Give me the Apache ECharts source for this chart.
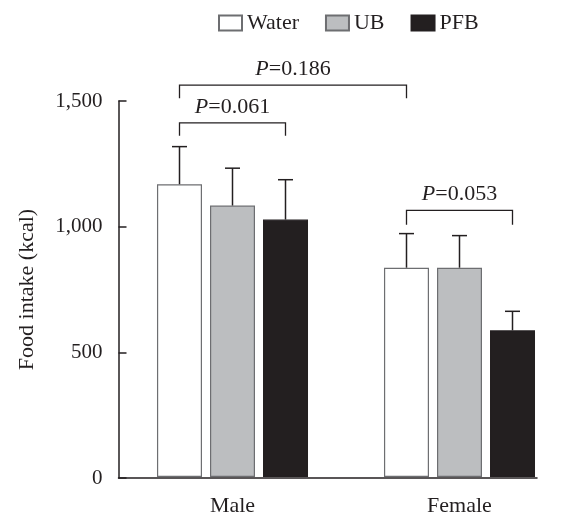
<!DOCTYPE html>
<html>
<head>
<meta charset="utf-8">
<script src="https://cdn.jsdelivr.net/npm/echarts@6/dist/echarts.min.js"></script>
<style>html,body{margin:0;padding:0;background:#fff;}#c{width:569px;height:517px;}</style>
</head>
<body>
<div id="c"></div>
<script>
const categories = ['Male', 'Female'];
const groupNames = ['Water', 'UB', 'PFB'];
const meanWater = [1168, 835];
const meanUB = [1083, 835];
const meanPFB = [1027, 585];
const upperWater = [1318, 971];
const upperUB = [1232, 963];
const upperPFB = [1186, 661];
const yTicks = [0, 500, 1000, 1500];

const pLabels = ['0.186', '0.061', '0.053'];
const bracketFrom = [[0, 0], [0, 0], [1, 0]];   // [category, bar index]
const bracketTo = [[1, 0], [0, 2], [1, 2]];
const bracketTop = [1563, 1413, 1064];
const bracketLeg = [1511, 1361, 1006];

const FONT = 'Liberation Serif';
const INK = '#231f20';
const BAR_W = 45, BAR_GAP = 8;
const means = [meanWater, meanUB, meanPFB];
const uppers = [upperWater, upperUB, upperPFB];
const fills = ['#ffffff', '#bcbec0', '#231f20'];
const borders = ['#6d6e71', '#6d6e71', '#231f20'];

const chart = echarts.init(document.getElementById('c'));

function barOffset(i) { return (i - 1) * (BAR_W + BAR_GAP); }

const series = [];
groupNames.forEach((name, i) => {
  series.push({
    name: name, type: 'bar', xAxisIndex: 0, yAxisIndex: 0,
    barWidth: BAR_W, barGap: (BAR_GAP / BAR_W * 100).toFixed(1) + '%',
    data: means[i], clip: false,
    itemStyle: { color: fills[i], borderColor: borders[i], borderWidth: 1.2 },
    emphasis: { disabled: true }, silent: true, z: 2
  });
});
groupNames.forEach((name, i) => {
  series.push({
    name: 'err' + i, type: 'custom', xAxisIndex: 0, yAxisIndex: 0,
    data: categories.map((c, k) => [k, means[i][k], uppers[i][k]]),
    encode: { x: 0, y: [1, 2] }, silent: true, z: 3, clip: false,
    renderItem: function (params, api) {
      const b = api.coord([api.value(0), api.value(1)]);
      const t = api.coord([api.value(0), api.value(2)]);
      const x = b[0] + barOffset(i);
      const st = { stroke: INK, lineWidth: 1.5 };
      return { type: 'group', children: [
        { type: 'line', shape: { x1: x, y1: b[1], x2: x, y2: t[1] }, style: st },
        { type: 'line', shape: { x1: x - 7.5, y1: t[1], x2: x + 7.5, y2: t[1] }, style: st }
      ]};
    }
  });
});
series.push({
  name: 'brackets', type: 'custom', xAxisIndex: 0, yAxisIndex: 0,
  data: pLabels.map((p, k) => [bracketFrom[k][0], bracketFrom[k][1], bracketTo[k][0], bracketTo[k][1], bracketTop[k], bracketLeg[k], k]),
  silent: true, z: 4, clip: false,
  renderItem: function (params, api) {
    const k = api.value(6);
    const l = api.coord([api.value(0), api.value(4)]);
    const r = api.coord([api.value(2), api.value(4)]);
    const leg = api.coord([api.value(0), api.value(5)]);
    const x1 = l[0] + barOffset(api.value(1));
    const x2 = r[0] + barOffset(api.value(3));
    const yT = l[1], yL = leg[1];
    return { type: 'group', children: [
      { type: 'polyline', shape: { points: [[x1, yL], [x1, yT], [x2, yT], [x2, yL]] },
        style: { stroke: INK, lineWidth: 1.3, fill: null } },
      { type: 'text', x: (x1 + x2) / 2, y: yT - 5,
        style: { text: '{i|P}=' + pLabels[k], align: 'center', verticalAlign: 'bottom',
          fontFamily: FONT, fontSize: 22, fill: INK,
          rich: { i: { fontStyle: 'italic', fontFamily: FONT, fontSize: 22, fill: INK } } } }
    ]};
  }
});

chart.setOption({
  animation: false,
  backgroundColor: '#fff',
  textStyle: { fontFamily: FONT },
  legend: {
    data: groupNames, left: 213, top: 7, itemWidth: 23, itemHeight: 15, itemGap: 26,
    icon: 'rect', selectedMode: false,
    textStyle: { fontFamily: FONT, fontSize: 22, color: INK }
  },
  grid: [
    { left: 232.5, top: 101, bottom: 39, width: 227 },
    { left: 118.5, top: 101, bottom: 39, width: 418.5 }
  ],
  xAxis: [
    { type: 'category', gridIndex: 0, data: categories, boundaryGap: false,
      axisLine: { show: false }, axisTick: { show: false }, splitLine: { show: false },
      axisLabel: { fontFamily: FONT, fontSize: 22, color: INK, margin: 18 } },
    { type: 'value', gridIndex: 1, min: 0, max: 1, show: true,
      axisLine: { show: true, lineStyle: { color: INK, width: 1.5 } },
      axisTick: { show: false }, axisLabel: { show: false }, splitLine: { show: false } }
  ],
  yAxis: [
    { type: 'value', gridIndex: 0, min: yTicks[0], max: yTicks[yTicks.length - 1], interval: 500, show: false },
    { type: 'value', gridIndex: 1, min: yTicks[0], max: yTicks[yTicks.length - 1], interval: 500,
      name: 'Food intake (kcal)', nameLocation: 'middle', nameGap: 80, nameRotate: 90,
      nameTextStyle: { fontFamily: FONT, fontSize: 22, color: INK },
      axisLine: { show: true, lineStyle: { color: INK, width: 1.5 } },
      axisTick: { show: true, inside: true, length: 8, lineStyle: { color: INK, width: 1.5 } },
      axisLabel: { fontFamily: FONT, fontSize: 21, color: INK, margin: 16,
        formatter: v => v.toLocaleString('en-US') },
      splitLine: { show: false } }
  ],
  series: series
});
</script>
</body>
</html>
